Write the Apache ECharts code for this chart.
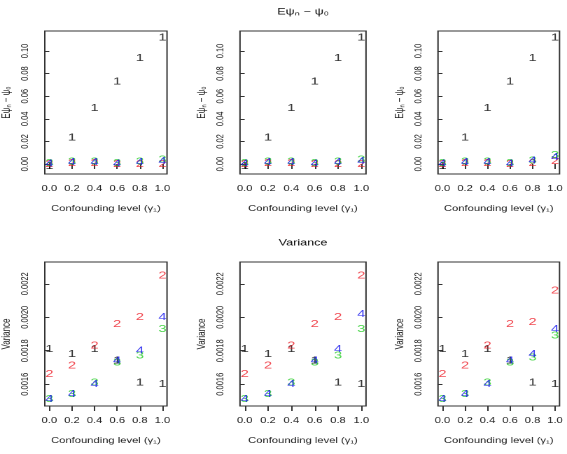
<!DOCTYPE html>
<html>
<head>
<meta charset="utf-8">
<script src="https://cdn.jsdelivr.net/npm/echarts@6/dist/echarts.min.js"></script>
<style>
html,body{margin:0;padding:0;background:#fff;overflow:hidden}
#wrap{width:567px;height:454px;overflow:hidden}
#c{width:405px;height:454px;transform:scaleX(1.4);transform-origin:0 0}
</style>
</head>
<body>
<div id="wrap"><div id="c"></div></div>
<script>
// ---- data ----
const gamma = [0, 0.2, 0.4, 0.6, 0.8, 1.0];
const xTicks = [0, 0.2, 0.4, 0.6, 0.8, 1.0];
const biasTicks = [0, 0.02, 0.04, 0.06, 0.08, 0.10];
const varTicks = [0.0016, 0.0018, 0.0020, 0.0022];
const estimators = ['1', '2', '3', '4'];

// bias, panel A (left)
const biasA_1 = [-0.002, 0.0236, 0.0496, 0.0729, 0.0935, 0.1118];
const biasA_2 = [0.000, 0.001, 0.001, 0.000, 0.000, 0.000];
const biasA_3 = [0.001, 0.002, 0.002, 0.001, 0.002, 0.0038];
const biasA_4 = [0.0003, 0.0018, 0.0018, 0.0006, 0.0018, 0.0024];
// bias, panel B (middle)
const biasB_1 = [-0.002, 0.0236, 0.0496, 0.0729, 0.0935, 0.1118];
const biasB_2 = [0.000, 0.001, 0.001, 0.000, 0.000, 0.000];
const biasB_3 = [0.001, 0.002, 0.002, 0.001, 0.002, 0.0038];
const biasB_4 = [0.0003, 0.0018, 0.0018, 0.0006, 0.0018, 0.0024];
// bias, panel C (right)
const biasC_1 = [-0.002, 0.0236, 0.0496, 0.0729, 0.0935, 0.1118];
const biasC_2 = [0.000, 0.001, 0.001, 0.000, 0.001, 0.0027];
const biasC_3 = [0.001, 0.002, 0.002, 0.001, 0.003, 0.0077];
const biasC_4 = [0.0003, 0.0018, 0.0018, 0.0006, 0.0032, 0.0062];

// variance, panel A (left)
const varA_1 = [0.00181, 0.00178, 0.00181, 0.00174, 0.00161, 0.00160];
const varA_2 = [0.00166, 0.00171, 0.00183, 0.00196, 0.00200, 0.00225];
const varA_3 = [0.00151, 0.00154, 0.00161, 0.00173, 0.00177, 0.00193];
const varA_4 = [0.00151, 0.00154, 0.00160, 0.00174, 0.00180, 0.00200];
// variance, panel B (middle)
const varB_1 = [0.00181, 0.00178, 0.00181, 0.00174, 0.00161, 0.00160];
const varB_2 = [0.00166, 0.00171, 0.00183, 0.00196, 0.00200, 0.00225];
const varB_3 = [0.00151, 0.00154, 0.00161, 0.00173, 0.00177, 0.00193];
const varB_4 = [0.00151, 0.00154, 0.00160, 0.00174, 0.00181, 0.00202];
// variance, panel C (right)
const varC_1 = [0.00181, 0.00178, 0.00181, 0.00174, 0.00161, 0.00160];
const varC_2 = [0.00166, 0.00171, 0.00183, 0.00196, 0.00197, 0.00216];
const varC_3 = [0.00151, 0.00154, 0.00161, 0.00173, 0.00176, 0.00189];
const varC_4 = [0.00151, 0.00154, 0.00160, 0.00174, 0.00178, 0.00193];

// ---- chart (drawn in a 405px-wide space, stretched horizontally by 1.4 like the original) ----
const SX = 1.4;
const FONT = "'Liberation Sans', Arial, Helvetica, sans-serif";
const colors = ['#000000', '#ee1c25', '#22cc22', '#1010ee'];
const panels = [
  {left: 42, top: 31, width: 125, height: 143, series: [biasA_1, biasA_2, biasA_3, biasA_4], kind: 'bias'},
  {left: 240, top: 31, width: 126, height: 143, series: [biasB_1, biasB_2, biasB_3, biasB_4], kind: 'bias'},
  {left: 438, top: 31, width: 125, height: 143, series: [biasC_1, biasC_2, biasC_3, biasC_4], kind: 'bias'},
  {left: 42, top: 262, width: 125, height: 144, series: [varA_1, varA_2, varA_3, varA_4], kind: 'var'},
  {left: 240, top: 262, width: 126, height: 144, series: [varB_1, varB_2, varB_3, varB_4], kind: 'var'},
  {left: 438, top: 262, width: 125, height: 144, series: [varC_1, varC_2, varC_3, varC_4], kind: 'var'}
];

const grid = [], xAxis = [], yAxis = [], series = [];
panels.forEach((p, i) => {
  grid.push({left: p.left / SX, top: p.top, width: p.width / SX, height: p.height, show: true,
    borderColor: '#333', borderWidth: 1, backgroundColor: 'transparent', containLabel: false});
  xAxis.push({type: 'value', gridIndex: i, min: -0.04, max: 1.04,
    name: 'Confounding level (γ₁)', nameLocation: 'middle', nameGap: 31,
    nameTextStyle: {fontFamily: FONT, fontSize: 8, color: '#222'},
    axisLine: {show: false}, splitLine: {show: false},
    axisTick: {show: true, inside: false, length: 5, customValues: xTicks, lineStyle: {color: '#333'}},
    axisLabel: {show: true, margin: 11, customValues: xTicks, fontFamily: FONT, fontSize: 8, color: '#222',
      formatter: v => v.toFixed(1)}});
  const isBias = p.kind === 'bias';
  const yt = isBias ? biasTicks : varTicks;
  yAxis.push({type: 'value', gridIndex: i,
    min: isBias ? -0.0088 : 0.00147, max: isBias ? 0.1177 : 0.00233,
    name: isBias ? 'Eψₙ − ψ₀' : 'Variance', nameLocation: 'middle', nameGap: 23,
    nameTextStyle: {fontFamily: FONT, fontSize: 8, color: '#222'},
    axisLine: {show: false}, splitLine: {show: false},
    axisTick: {show: true, inside: false, length: 3.6, customValues: yt, lineStyle: {color: '#333'}},
    axisLabel: {show: true, rotate: 90, margin: 10, customValues: yt, fontFamily: FONT, fontSize: 7.5, color: '#222',
      formatter: v => v.toFixed(isBias ? 2 : 4)}});
  p.series.forEach((vals, k) => {
    series.push({type: 'scatter', xAxisIndex: i, yAxisIndex: i, name: estimators[k],
      symbol: 'circle', symbolSize: 1, itemStyle: {color: 'rgba(0,0,0,0)'},
      label: {show: true, position: 'inside', formatter: estimators[k], color: colors[k],
        fontFamily: FONT, fontSize: 10.5},
      emphasis: {disabled: true}, silent: true, animation: false,
      data: gamma.map((g, j) => [g, vals[j]])});
  });
});

const chart = echarts.init(document.getElementById('c'), null, {renderer: 'canvas', devicePixelRatio: 2});
chart.setOption({
  animation: false,
  backgroundColor: '#fff',
  grid, xAxis, yAxis, series,
  graphic: [
    {type: 'text', x: 303 / SX, y: 12, style: {text: 'Eψₙ − ψ₀', fontFamily: FONT, fontSize: 9,
      fill: '#111', textAlign: 'center', textVerticalAlign: 'middle'}},
    {type: 'text', x: 303 / SX, y: 243, style: {text: 'Variance', fontFamily: FONT, fontSize: 9,
      fill: '#111', textAlign: 'center', textVerticalAlign: 'middle'}}
  ]
});
</script>
</body>
</html>
